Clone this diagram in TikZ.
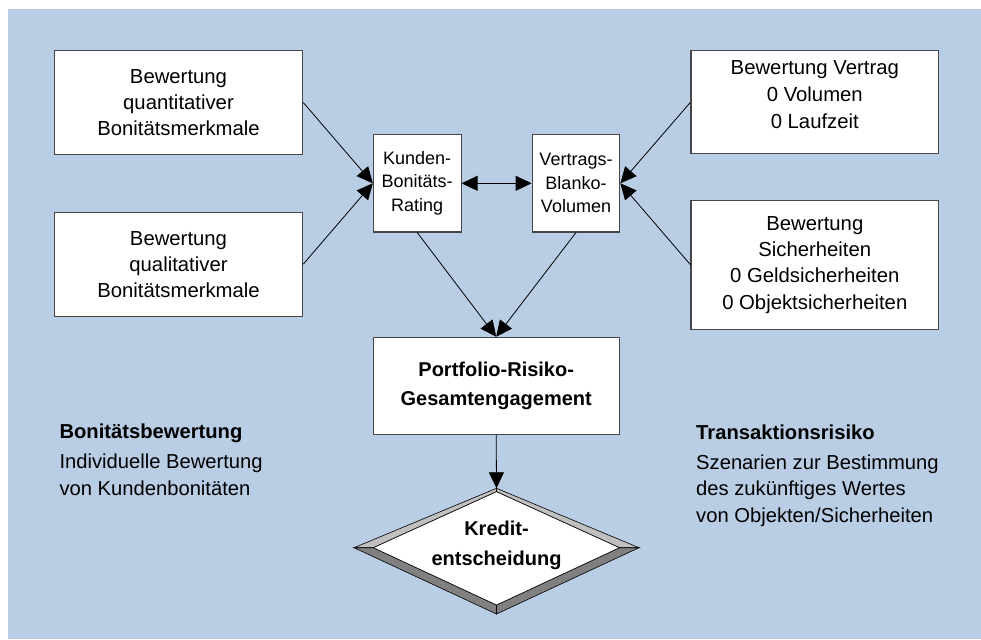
\documentclass[tikz,border=0pt]{standalone}
\usepackage{fontspec}
\setmainfont{Liberation Sans}
\usetikzlibrary{arrows.meta}
\definecolor{bgblue}{RGB}{185,205,228}
\definecolor{boxline}{RGB}{70,70,70}
\definecolor{bevlight}{RGB}{192,192,192}
\definecolor{bevdark}{RGB}{128,128,128}
\begin{document}
\begin{tikzpicture}[x=1pt,y=-1pt,
  box/.style={draw=boxline, fill=white, line width=1.1pt, inner sep=0pt, align=center,
              font=\fontsize{20.3}{26}\selectfont},
  smallbox/.style={box, font=\fontsize{18}{23.5}\selectfont, minimum width=87.7pt, minimum height=97.3pt},
  boxtext/.style={inner sep=0pt, align=center, font=\fontsize{20.3}{27}\selectfont},
  sidetext/.style={inner sep=0pt, align=left, anchor=north west, font=\fontsize{20.2}{26.5}\selectfont},
  conn/.style={line width=0.8pt, -{Triangle[length=16pt,width=15pt]}},
  dconn/.style={line width=0.8pt, {Triangle[length=16pt,width=15pt]}-{Triangle[length=16pt,width=15pt]}},
  facet/.style={draw=black, line width=0.6pt, line join=miter}
]
\useasboundingbox (0,0) rectangle (981,639);
\fill[white] (0,0) rectangle (981,639);
\fill[bgblue] (8,9) rectangle (981,639);

% left boxes
\node[box, minimum width=248.4pt, minimum height=103.6pt] (qn) at (178.5,102.5) {Bewertung\\quantitativer\\Bonitätsmerkmale};
\node[box, minimum width=248.4pt, minimum height=103.7pt] (ql) at (178.5,264.2) {Bewertung\\qualitativer\\Bonitätsmerkmale};

% right boxes
\node[box, minimum width=247.7pt, minimum height=103.3pt] (vt) at (814.8,102.3) {};
\node[boxtext] (vttext) at (814.8,94.5) {Bewertung Vertrag\\0 Volumen\\0 Laufzeit};
\node[box, minimum width=247.7pt, minimum height=129.3pt, font=\fontsize{20.3}{26.3}\selectfont] (si) at (814.8,264.7) {Bewertung\\Sicherheiten\\0 Geldsicherheiten\\0 Objektsicherheiten};

% middle boxes
\node[smallbox] (kb) at (417.2,183.3) {Kunden-\\Bonitäts-\\Rating};
\node[smallbox] (vb) at (576,183.3) {Vertrags-\\Blanko-\\Volumen};

% portfolio
\node[box, font=\bfseries\fontsize{20}{29}\selectfont, minimum width=245.7pt, minimum height=97pt] (pf) at (496.2,385.8) {Portfolio-Risiko-\\Gesamtengagement};

% diamond with bevel
\coordinate (dT) at (496.5,488.3);
\coordinate (dB) at (496.5,614);
\coordinate (dL) at (354,547.7);
\coordinate (dR) at (639,547.7);
\coordinate (iT) at (496.5,491.7);
\coordinate (iB) at (496.5,605);
\coordinate (iL) at (373.3,547.7);
\coordinate (iR) at (619.5,547.7);
\filldraw[facet, fill=bevlight] (dL) -- (dT) -- (iT) -- (iL) -- cycle;
\filldraw[facet, fill=bevlight] (dT) -- (dR) -- (iR) -- (iT) -- cycle;
\filldraw[facet, fill=bevdark] (dL) -- (dB) -- (iB) -- (iL) -- cycle;
\filldraw[facet, fill=bevdark] (dB) -- (dR) -- (iR) -- (iB) -- cycle;
\filldraw[facet, fill=white] (iL) -- (iT) -- (iR) -- (iB) -- cycle;
\node[inner sep=0pt, align=center, font=\bfseries\fontsize{20}{30}\selectfont] (kd) at (496.5,545) {Kredit-\\entscheidung};

% side texts
\node[sidetext] (bw) at (59.3,424) {\textbf{Bonitätsbewertung}\\[3.5pt]Individuelle Bewertung\\von Kundenbonitäten};
\node[sidetext] (tr) at (696,425) {\textbf{Transaktionsrisiko}\\[3pt]Szenarien zur Bestimmung\\des zukünftiges Wertes\\von Objekten/Sicherheiten};

% connectors
\draw[conn] (qn.east) -- (kb.west);
\draw[conn] (ql.east) -- (kb.west);
\draw[conn] (vt.west) -- (vb.east);
\draw[conn] (si.west) -- (vb.east);
\draw[dconn] (kb.east) -- (vb.west);
\draw[conn] (kb.south) -- (pf.north);
\draw[conn] (vb.south) -- (pf.north);
\draw[conn] (pf.south) -- (dT);
\end{tikzpicture}
\end{document}
